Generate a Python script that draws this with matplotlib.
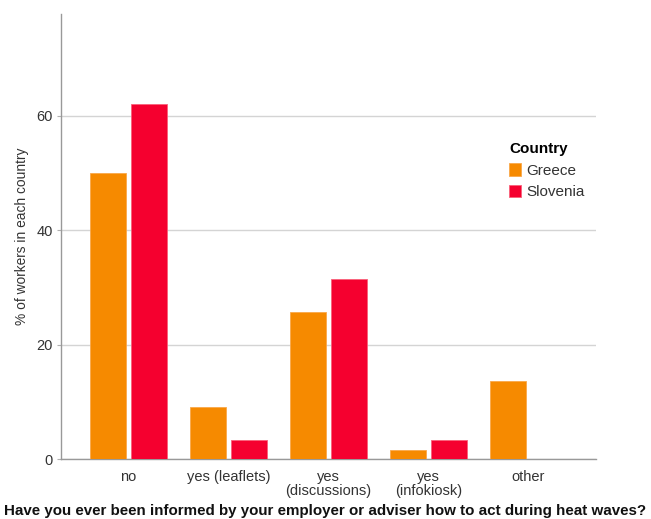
import matplotlib

matplotlib.use("Agg")
import matplotlib.pyplot as plt
import numpy as np

categories = ["no", "yes (leaflets)", "yes\n(discussions)", "yes\n(infokiosk)", "other"]
greece = [50.0, 9.1, 25.7, 1.6, 13.6]
slovenia = [62.1, 3.3, 31.5, 3.3, 0.0]
yticks = [0, 20, 40, 60]

plt.rcParams["font.family"] = ["Liberation Sans", "DejaVu Sans"]

fig = plt.figure(figsize=(6.51, 5.19), dpi=100)
ax = fig.add_axes([0.0937, 0.1156, 0.8218, 0.8574])

x = np.arange(len(categories))
w = 0.36
off = 0.205
ax.bar(x - off, greece, w, color="#F68A00", edgecolor="#F9A84A", linewidth=0.6,
       label="Greece", zorder=3)
ax.bar(x + off, slovenia, w, color="#F5002F", edgecolor="#F9607A", linewidth=0.6,
       label="Slovenia", zorder=3)

ax.set_xlim(-0.675, 4.675)
ax.set_ylim(0, 77.8)
ax.set_yticks(yticks)
ax.set_xticks(x)
ax.set_xticklabels(categories, fontsize=10.5, color="#333333", linespacing=1.0)
ax.tick_params(axis="x", length=0, pad=8)
ax.tick_params(axis="y", length=3, color="#b0b0b0", labelsize=10.5,
               labelcolor="#333333", pad=3)
ax.yaxis.grid(True, color="#d4d4d4", linewidth=1.0, zorder=0)
ax.set_axisbelow(True)

for s in ("top", "right"):
    ax.spines[s].set_visible(False)
for s in ("left", "bottom"):
    ax.spines[s].set_color("#999999")
    ax.spines[s].set_linewidth(1.0)

ax.set_ylabel("% of workers in each country", fontsize=9.9, color="#333333",
              labelpad=5)
fig.text(0.5, 0.016, "Have you ever been informed by your employer or adviser how to act during heat waves?",
         ha="center", va="center", fontsize=10.9, fontweight="bold", color="#111111")

leg = ax.legend(title="Country", loc="upper left", bbox_to_anchor=(0.826, 0.725),
                frameon=False, fontsize=11, handlelength=0.8, handleheight=0.85,
                handletextpad=0.35, labelspacing=0.45, borderaxespad=0)
leg._legend_box.align = "left"
leg.get_title().set_fontweight("bold")
leg.get_title().set_fontsize(11)
for t in leg.get_texts():
    t.set_color("#333333")

fig.savefig("out.png", dpi=100)
